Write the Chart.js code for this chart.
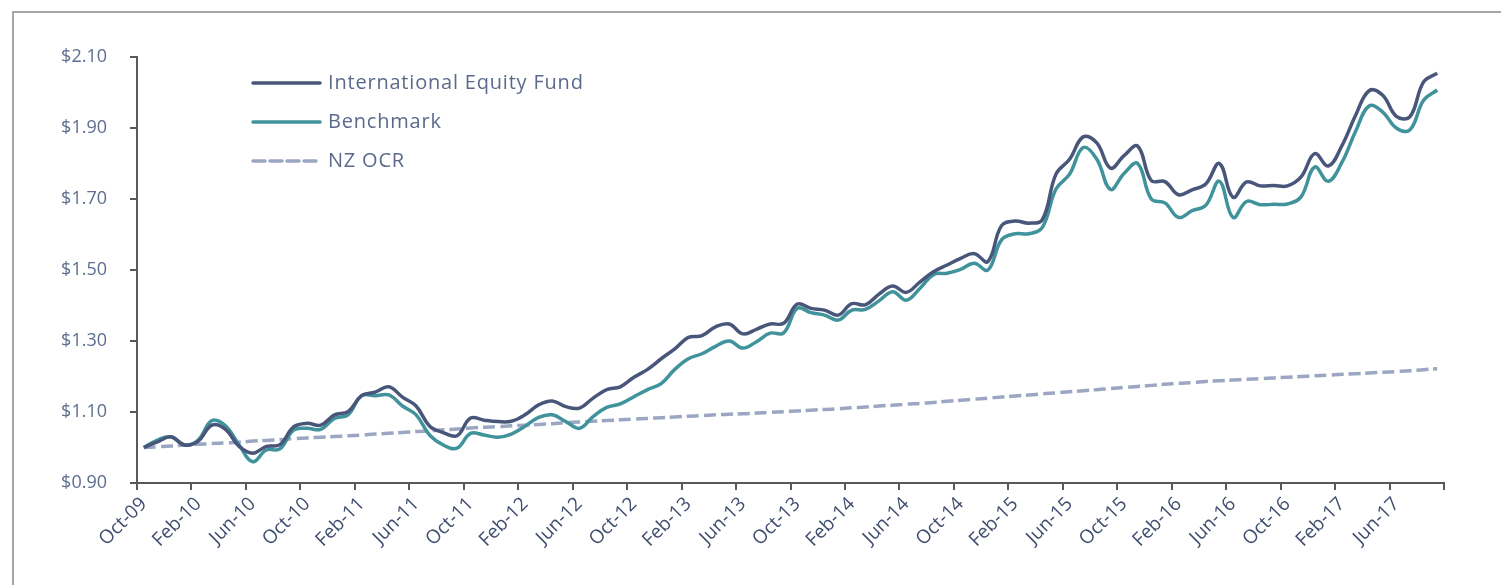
<!DOCTYPE html>
<html>
<head>
<meta charset="utf-8">
<title>International Equity Fund</title>
<script src="https://cdn.jsdelivr.net/npm/chart.js@4.4.1/dist/chart.umd.min.js"></script>
<style>
    html, body { margin: 0; padding: 0; background: #fff; }
    body { width: 1501px; height: 585px; position: relative; overflow: hidden; }
    #frame {
        position: absolute; left: 12px; top: 11px; width: 1600px; height: 700px;
        border-left: 2px solid #a6a6a6; border-top: 2px solid #a6a6a6;
    }
    #wrap { position: absolute; left: 0; top: 0; width: 1501px; height: 585px; }
</style>
</head>
<body>
<div id="frame"></div>
<div id="wrap"><canvas id="growthChart"></canvas></div>
<script>
// months, Oct-09 .. Sep-17
var categories = [
    'Oct-09', 'Nov-09', 'Dec-09', 'Jan-10', 'Feb-10', 'Mar-10', 'Apr-10', 'May-10', 'Jun-10', 'Jul-10', 'Aug-10', 'Sep-10',
    'Oct-10', 'Nov-10', 'Dec-10', 'Jan-11', 'Feb-11', 'Mar-11', 'Apr-11', 'May-11', 'Jun-11', 'Jul-11', 'Aug-11', 'Sep-11',
    'Oct-11', 'Nov-11', 'Dec-11', 'Jan-12', 'Feb-12', 'Mar-12', 'Apr-12', 'May-12', 'Jun-12', 'Jul-12', 'Aug-12', 'Sep-12',
    'Oct-12', 'Nov-12', 'Dec-12', 'Jan-13', 'Feb-13', 'Mar-13', 'Apr-13', 'May-13', 'Jun-13', 'Jul-13', 'Aug-13', 'Sep-13',
    'Oct-13', 'Nov-13', 'Dec-13', 'Jan-14', 'Feb-14', 'Mar-14', 'Apr-14', 'May-14', 'Jun-14', 'Jul-14', 'Aug-14', 'Sep-14',
    'Oct-14', 'Nov-14', 'Dec-14', 'Jan-15', 'Feb-15', 'Mar-15', 'Apr-15', 'May-15', 'Jun-15', 'Jul-15', 'Aug-15', 'Sep-15',
    'Oct-15', 'Nov-15', 'Dec-15', 'Jan-16', 'Feb-16', 'Mar-16', 'Apr-16', 'May-16', 'Jun-16', 'Jul-16', 'Aug-16', 'Sep-16',
    'Oct-16', 'Nov-16', 'Dec-16', 'Jan-17', 'Feb-17', 'Mar-17', 'Apr-17', 'May-17', 'Jun-17', 'Jul-17', 'Aug-17', 'Sep-17'
];

var fundValues = [
    1.000, 1.016, 1.030, 1.007, 1.018, 1.063, 1.051, 1.003, 0.984, 1.003, 1.008, 1.058,
    1.068, 1.063, 1.092, 1.101, 1.146, 1.156, 1.171, 1.142, 1.117, 1.060, 1.042, 1.033,
    1.083, 1.077, 1.073, 1.074, 1.092, 1.120, 1.131, 1.115, 1.111, 1.139, 1.163, 1.171,
    1.198, 1.220, 1.250, 1.278, 1.310, 1.315, 1.340, 1.348, 1.320, 1.333, 1.348, 1.350,
    1.404, 1.392, 1.387, 1.373, 1.405, 1.402, 1.432, 1.455, 1.437, 1.466, 1.495, 1.514,
    1.533, 1.546, 1.524, 1.625, 1.638, 1.632, 1.642, 1.770, 1.812, 1.875, 1.858, 1.787,
    1.822, 1.849, 1.752, 1.749, 1.712, 1.726, 1.742, 1.800, 1.705, 1.748, 1.737, 1.738,
    1.737, 1.762, 1.828, 1.793, 1.850, 1.935, 2.005, 1.992, 1.933, 1.932, 2.030, 2.054
];

var benchmarkValues = [
    1.000, 1.021, 1.030, 1.007, 1.021, 1.076, 1.061, 1.007, 0.960, 0.993, 0.996, 1.049,
    1.054, 1.051, 1.082, 1.092, 1.146, 1.146, 1.148, 1.117, 1.092, 1.035, 1.007, 0.998,
    1.040, 1.035, 1.029, 1.038, 1.060, 1.085, 1.092, 1.073, 1.054, 1.087, 1.113, 1.123,
    1.143, 1.163, 1.180, 1.220, 1.250, 1.264, 1.285, 1.300, 1.280, 1.298, 1.322, 1.323,
    1.392, 1.380, 1.373, 1.359, 1.387, 1.389, 1.413, 1.439, 1.415, 1.448, 1.487, 1.491,
    1.502, 1.519, 1.500, 1.585, 1.602, 1.602, 1.620, 1.728, 1.770, 1.845, 1.812, 1.727,
    1.772, 1.800, 1.700, 1.689, 1.648, 1.667, 1.682, 1.750, 1.648, 1.693, 1.684, 1.685,
    1.686, 1.706, 1.790, 1.750, 1.803, 1.890, 1.962, 1.945, 1.900, 1.895, 1.978, 2.007
];

var ocrValues = [
    1.000, 1.002, 1.004, 1.007, 1.009, 1.011, 1.013, 1.015, 1.018, 1.020, 1.022, 1.025,
    1.027, 1.029, 1.031, 1.033, 1.035, 1.038, 1.040, 1.042, 1.045, 1.047, 1.050, 1.052,
    1.055, 1.057, 1.059, 1.061, 1.063, 1.065, 1.067, 1.070, 1.072, 1.074, 1.076, 1.078,
    1.080, 1.082, 1.084, 1.086, 1.088, 1.090, 1.092, 1.094, 1.095, 1.097, 1.099, 1.101,
    1.103, 1.105, 1.107, 1.109, 1.112, 1.114, 1.117, 1.119, 1.122, 1.124, 1.127, 1.130,
    1.133, 1.136, 1.139, 1.142, 1.145, 1.148, 1.151, 1.154, 1.157, 1.160, 1.163, 1.166,
    1.169, 1.172, 1.175, 1.178, 1.181, 1.183, 1.186, 1.188, 1.190, 1.192, 1.194, 1.196,
    1.198, 1.200, 1.202, 1.204, 1.206, 1.208, 1.210, 1.212, 1.214, 1.216, 1.219, 1.222
];

// y axis ticks
var yTicks = [0.90, 1.10, 1.30, 1.50, 1.70, 1.90, 2.10];
var labelEvery = 4;

var fontFamily = '"Open Sans", "Noto Sans", sans-serif';
var axisColor = '#595959';

// legend drawn inside the plot, top left
var insideLegend = {
    id: 'insideLegend',
    afterDraw: function (chart) {
        var ctx = chart.ctx;
        ctx.save();
        ctx.font = '20px ' + fontFamily;
        ctx.letterSpacing = '0.8px';
        ctx.textBaseline = 'middle';
        chart.data.datasets.forEach(function (ds, i) {
            var y = 83 + i * 39;
            ctx.beginPath();
            ctx.strokeStyle = ds.borderColor;
            ctx.lineWidth = 3.5;
            ctx.lineCap = 'round';
            ctx.setLineDash(ds.borderDash || []);
            ctx.moveTo(253, y);
            ctx.lineTo(320, y);
            ctx.stroke();
            ctx.setLineDash([]);
            ctx.fillStyle = '#5b6a8c';
            ctx.fillText(ds.label, 328, y);
        });
        ctx.restore();
    }
};

var ctx = document.getElementById('growthChart').getContext('2d');
var growthChart = new Chart(ctx, {
    type: 'line',
    data: {
        labels: categories,
        datasets: [{
            label: 'International Equity Fund',
            data: fundValues,
            borderColor: '#48567a',
            borderWidth: 3.5,
            tension: 0.4
        }, {
            label: 'Benchmark',
            data: benchmarkValues,
            borderColor: '#40929b',
            borderWidth: 3.5,
            tension: 0.4
        }, {
            label: 'NZ OCR',
            data: ocrValues,
            borderColor: '#9ba7c2',
            borderWidth: 3.5,
            borderDash: [12, 5],
            tension: 0.4
        }]
    },
    options: {
        responsive: true,
        maintainAspectRatio: false,
        animation: false,
        devicePixelRatio: 1,
        elements: { point: { radius: 0 } },
        layout: { padding: { top: 57, right: 57, left: 0, bottom: 0 } },
        scales: {
            x: {
                offset: true,
                grid: {
                    offset: true,
                    drawOnChartArea: false,
                    drawTicks: true,
                    tickLength: 7,
                    lineWidth: 2,
                    color: function (c) {
                        return (c.type !== 'tick' || c.index % labelEvery === 0) ? axisColor : 'rgba(0,0,0,0)';
                    }
                },
                border: { color: axisColor, width: 2 },
                ticks: {
                    autoSkip: false,
                    maxRotation: 45,
                    minRotation: 45,
                    padding: 3,
                    color: '#3f4d6e',
                    font: { family: fontFamily, size: 19 },
                    callback: function (v, i) {
                        return i % labelEvery === 0 ? categories[i] : '';
                    }
                },
                afterFit: function (s) { s.height = 102; }
            },
            y: {
                min: yTicks[0],
                max: yTicks[yTicks.length - 1],
                grid: {
                    drawOnChartArea: false,
                    drawTicks: true,
                    tickLength: 7,
                    lineWidth: 2,
                    color: axisColor
                },
                border: { color: axisColor, width: 2 },
                afterBuildTicks: function (s) {
                    s.ticks = yTicks.map(function (v) { return { value: v }; });
                },
                ticks: {
                    padding: 23,
                    color: '#5e6d8f',
                    font: { family: fontFamily, size: 18 },
                    callback: function (v) { return '$' + Number(v).toFixed(2); }
                },
                afterFit: function (s) { s.width = 137; }
            }
        },
        plugins: {
            legend: { display: false },
            tooltip: { enabled: false }
        }
    },
    plugins: [insideLegend]
});
</script>
</body>
</html>
